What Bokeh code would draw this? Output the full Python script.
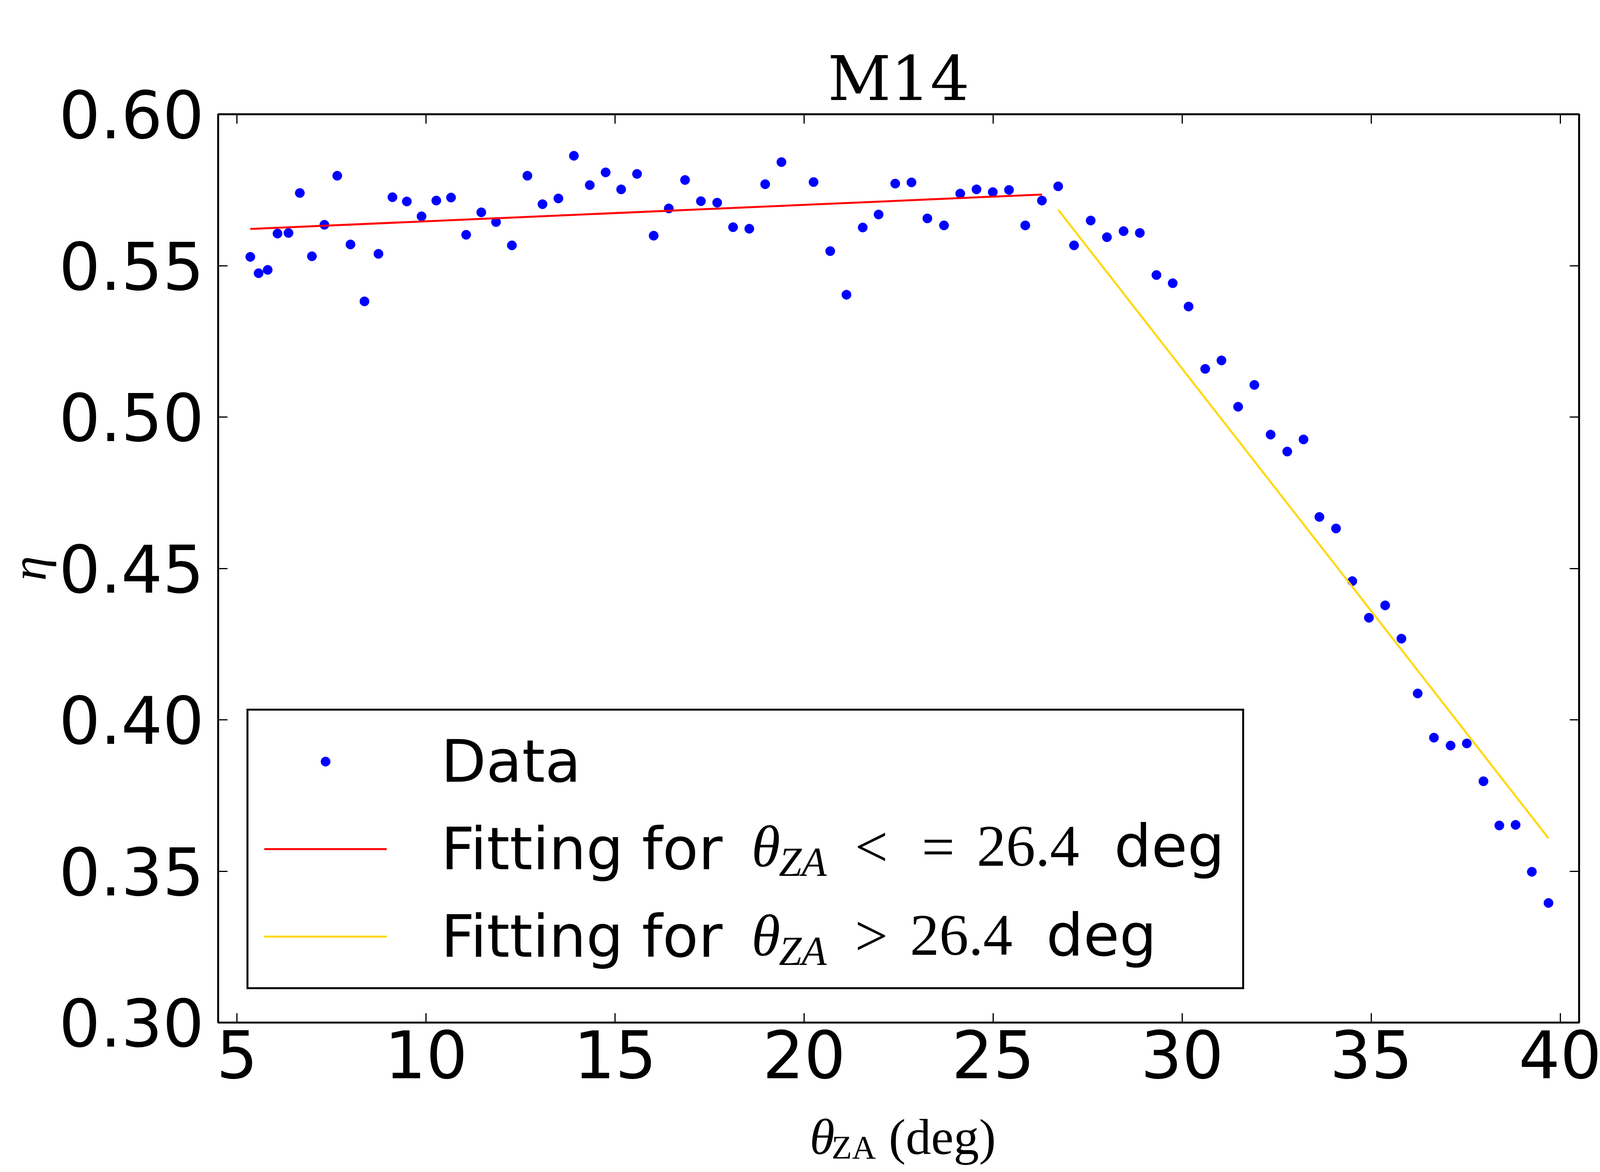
import numpy as np
from bokeh.plotting import figure
from bokeh.layouts import row, column
from bokeh.models import (Range1d, LinearAxis, FixedTicker, Legend, LegendItem,
                          Label, PrintfTickFormatter)
from bokeh.embed import file_html
from bokeh.resources import INLINE

# ---------------- data ----------------
theta_deg = [5.35, 5.57, 5.81, 6.07, 6.36, 6.66, 6.98, 7.31, 7.65, 8.00,
             8.37, 8.74, 9.11, 9.49, 9.88, 10.27, 10.66, 11.06, 11.46, 11.85,
             12.27, 12.68, 13.08, 13.50, 13.91, 14.33, 14.75, 15.16, 15.58, 16.02,
             16.42, 16.85, 17.27, 17.70, 18.12, 18.55, 18.97, 19.40, 20.25, 20.69,
             21.12, 21.55, 21.97, 22.41, 22.84, 23.26, 23.70, 24.13, 24.56, 24.99,
             25.42, 25.85, 26.29, 26.72, 27.14, 27.58, 28.01, 28.45, 28.88, 29.32,
             29.75, 30.17, 30.61, 31.04, 31.48, 31.91, 32.34, 32.78, 33.21, 33.63,
             34.07, 34.50, 34.94, 35.37, 35.80, 36.23, 36.66, 37.10, 37.53, 37.97,
             38.39, 38.82, 39.25, 39.69]
eta = [0.5529, 0.5475, 0.5486, 0.5606, 0.5608, 0.5740, 0.5531, 0.5635, 0.5797, 0.5570,
       0.5382, 0.5539, 0.5726, 0.5712, 0.5663, 0.5715, 0.5725, 0.5602, 0.5676, 0.5644,
       0.5567, 0.5797, 0.5703, 0.5722, 0.5863, 0.5766, 0.5808, 0.5752, 0.5803, 0.5599,
       0.5689, 0.5783, 0.5713, 0.5708, 0.5627, 0.5622, 0.5769, 0.5842, 0.5776, 0.5548,
       0.5404, 0.5626, 0.5669, 0.5771, 0.5775, 0.5656, 0.5633, 0.5738, 0.5752, 0.5743,
       0.5750, 0.5633, 0.5715, 0.5762, 0.5567, 0.5649, 0.5594, 0.5614, 0.5608, 0.5469,
       0.5442, 0.5365, 0.5159, 0.5187, 0.5034, 0.5106, 0.4942, 0.4886, 0.4926, 0.4670,
       0.4632, 0.4458, 0.4337, 0.4378, 0.4268, 0.4087, 0.3941, 0.3915, 0.3922, 0.3797,
       0.3651, 0.3653, 0.3498, 0.3395]

theta_split = 26.4
fit_low = [0.000543, 0.55922]     # slope, intercept  (theta <= 26.4)
fit_high = [-0.016005, 0.99613]   # slope, intercept  (theta > 26.4)

x_ticks = [5, 10, 15, 20, 25, 30, 35, 40]
x_tick_labels = ["5", "10", "15", "20", "25", "30", "35", "40"]
y_ticks = [0.30, 0.35, 0.40, 0.45, 0.50, 0.55, 0.60]
y_tick_labels = ["0.30", "0.35", "0.40", "0.45", "0.50", "0.55", "0.60"]

title_text = "M14"
legend_labels = ["Data", "Fitting for", "Fitting for"]
x_range = (4.5, 40.5)
y_range = (0.30, 0.60)

# ---------------- layout (page pixels) ----------------
OFF = 8
PAGE_W, PAGE_H = 4484, 2984
ETA_W = 147                       # narrow strip holding the y-axis label
FL, FT, FR, FB = 564, 300, 4050, 2625   # frame edges of the main plot
MAIN_X0 = OFF + ETA_W             # page x where main column starts
BOTTOM_BORDER = 218
MAIN_H = (FT - OFF) + (FB - FT) + BOTTOM_BORDER
XLAB_H = PAGE_H - MAIN_H
COL_W = PAGE_W - ETA_W
XB = OFF + MAIN_H + XLAB_H        # page y of the x-label strip bottom

# distance (in em) from the middle of a font's box down to its baseline
MID_TO_BASE = {"Liberation Serif": 0.3375, "DejaVu Sans": 0.346}

p = figure(width=COL_W, height=MAIN_H, output_backend="svg", toolbar_location=None,
           x_range=Range1d(*x_range), y_range=Range1d(*y_range),
           min_border_left=FL - MAIN_X0, min_border_right=OFF + PAGE_W - FR,
           min_border_top=FT - OFF, min_border_bottom=BOTTOM_BORDER,
           background_fill_color="white", border_fill_color="white")
p.grid.visible = False
p.outline_line_color = "black"
p.outline_line_width = 5

ax_bottom = p.below[0]
ax_left = p.left[0]
ax_top = LinearAxis()
ax_right = LinearAxis()
p.add_layout(ax_top, "above")
p.add_layout(ax_right, "right")

for ax in (ax_bottom, ax_top):
    ax.ticker = FixedTicker(ticks=x_ticks, minor_ticks=[])
    ax.major_label_overrides = {t: s for t, s in zip(x_ticks, x_tick_labels)}
for ax in (ax_left, ax_right):
    ax.ticker = FixedTicker(ticks=y_ticks, minor_ticks=[])
    ax.formatter = PrintfTickFormatter(format="%.2f")

for ax in (ax_bottom, ax_top, ax_left, ax_right):
    ax.major_tick_in = 24
    ax.major_tick_out = 0
    ax.major_tick_line_width = 3
    ax.major_tick_line_color = "black"
    ax.minor_tick_line_color = None
    ax.axis_line_color = None
    ax.major_label_text_font = "DejaVu Sans"
    ax.major_label_text_font_size = "167px"
    ax.major_label_text_color = "black"

ax_bottom.major_label_standoff = 19
ax_left.major_label_standoff = 36
for ax in (ax_top, ax_right):
    ax.major_label_text_font_size = "0px"
    ax.major_label_text_color = None
    ax.major_label_standoff = 0

p.title.text = title_text
p.title.align = "center"
p.title.text_font = "DejaVu Serif"
p.title.text_font_size = "158px"
p.title.text_font_style = "normal"
p.title.text_color = "black"
p.title.standoff = 0

# ---------------- marks ----------------
sc = p.scatter(theta_deg, eta, size=24, fill_color="#0000ff", line_color="#0000ff")

th = np.array(theta_deg)
low = th[th <= theta_split]
high = th[th > theta_split]
xl = [float(low.min()), float(low.max())]
yl = [fit_low[0] * x + fit_low[1] for x in xl]
xh = [float(high.min()), float(high.max())]
yh = [fit_high[0] * x + fit_high[1] for x in xh]
r1 = p.line(xl, yl, line_color="#ff0000", line_width=5)
r2 = p.line(xh, yh, line_color="#ffd700", line_width=5)

# the legend region holds no data, so a transparent legend body lets the
# math parts of the labels (drawn as Labels) show through
leg = Legend(items=[LegendItem(label=legend_labels[0], renderers=[sc]),
                    LegendItem(label=legend_labels[1], renderers=[r1]),
                    LegendItem(label=legend_labels[2], renderers=[r2])],
             location=(73, 85), margin=0, padding=40, spacing=44,
             glyph_width=314, glyph_height=60, label_height=180, label_width=2011,
             label_standoff=139, label_text_font="DejaVu Sans",
             label_text_font_size="150px", label_text_color="black",
             border_line_color="black", border_line_alpha=1.0,
             border_line_width=5, background_fill_alpha=0.0)
p.add_layout(leg)


def px2data(X, Y):
    x = x_range[0] + (X - FL) / (FR - FL) * (x_range[1] - x_range[0])
    y = y_range[1] - (Y - FT) / (FB - FT) * (y_range[1] - y_range[0])
    return x, y


def lab(fig, text, x, y, size, font="Liberation Serif", style="normal",
        angle=0.0, align="left"):
    fig.add_layout(Label(x=x, y=y, text=text, text_font=font,
                         text_font_size=f"{size}px", text_font_style=style,
                         text_align=align, text_baseline="middle",
                         angle=angle, text_color="black", level="overlay"))


def mid_y(base_Y, size, font):
    # page y of the middle of the text box, given the page y of its baseline
    return base_Y - MID_TO_BASE[font] * size


def leg_lab(text, X, base_Y, size, font="Liberation Serif", style="normal"):
    x, y = px2data(X, mid_y(base_Y, size, font))
    lab(p, text, x, y, size, font=font, style=style)


def xl_lab(text, X, base_Y, size, font="Liberation Serif", style="normal"):
    lab(p_x, text, X - MAIN_X0, XB - mid_y(base_Y, size, font), size,
        font=font, style=style)


# math parts of the legend labels
B2, B3 = 2225, 2453
leg_lab("θ", 1930, B2, 150, style="italic")
leg_lab("ZA", 2000, B2 + 24, 105, style="italic")
leg_lab("<", 2195, B2, 150)
leg_lab("=", 2366, B2, 150)
leg_lab("26.4", 2507, B2, 150)
leg_lab("deg", 2859, B2, 150, font="DejaVu Sans")

leg_lab("θ", 1930, B3, 150, style="italic")
leg_lab("ZA", 2000, B3 + 24, 105, style="italic")
leg_lab(">", 2195, B3, 150)
leg_lab("26.4", 2336, B3, 150)
leg_lab("deg", 2685, B3, 150, font="DejaVu Sans")


def strip(w, h):
    f = figure(width=w, height=h, output_backend="svg", toolbar_location=None,
               x_range=Range1d(0, w), y_range=Range1d(0, h),
               x_axis_location=None, y_axis_location=None, min_border=0,
               background_fill_color="white", border_fill_color="white")
    f.title.visible = False
    f.grid.visible = False
    f.outline_line_color = None
    return f


# x-axis label strip (below the main plot)
p_x = strip(COL_W, XLAB_H)
xl_lab("θ", 2040, 2961, 130, style="italic")
xl_lab("ZA", 2110, 2973, 85)
xl_lab("(deg)", 2292, 2961, 130)

# y-axis label strip (left of the main plot), rotated, centred on the frame
p_y = strip(ETA_W, PAGE_H)
lab(p_y, "η", 81.5 - OFF, OFF + PAGE_H - (FT + FB) / 2, 128, style="italic",
    angle=np.pi / 2, align="center")

layout = row(p_y, column(p, p_x))
open("out.html", "w").write(file_html(layout, INLINE))
